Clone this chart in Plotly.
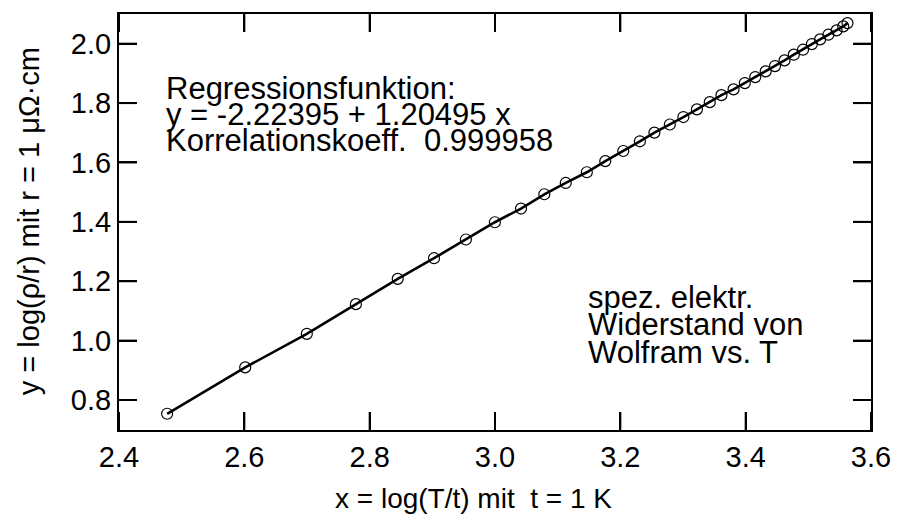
import plotly.graph_objects as go

# x = log(T / 1 K), y = log(rho / 1 µΩ·cm)
x_vals = [2.4768, 2.6014, 2.6997, 2.7780, 2.8448, 2.9027, 2.9536, 2.9998,
          3.0415, 3.0787, 3.1129, 3.1465, 3.1760, 3.2047, 3.2312, 3.2544,
          3.2790, 3.3006, 3.3222, 3.3427, 3.3613, 3.3807, 3.3987, 3.4153,
          3.4320, 3.4468, 3.4620, 3.4768, 3.4915, 3.5057, 3.5188, 3.5320,
          3.5451, 3.5557, 3.5625]
y_vals = [0.7537, 0.9098, 1.0229, 1.1228, 1.2080, 1.2776, 1.3405, 1.3987,
          1.4448, 1.4929, 1.5310, 1.5670, 1.6046, 1.6386, 1.6713, 1.7005,
          1.7278, 1.7530, 1.7789, 1.8032, 1.8267, 1.8462, 1.8674, 1.8876,
          1.9068, 1.9246, 1.9438, 1.9630, 1.9798, 1.9987, 2.0145, 2.0303,
          2.0448, 2.0582, 2.0693]

x_ticks = [2.4, 2.6, 2.8, 3.0, 3.2, 3.4, 3.6]
y_ticks = [0.8, 1.0, 1.2, 1.4, 1.6, 1.8, 2.0]

x_title = "x = log(T/t) mit  t = 1 K"
y_title = "y = log(ρ/r) mit r = 1 μΩ·cm"
info_lines = ["Regressionsfunktion:", "y = -2.22395 + 1.20495 x",
              "Korrelationskoeff.  0.999958"]
label_lines = ["spez. elektr.", "Widerstand von", "Wolfram vs. T"]

FONT = "Liberation Sans"
TICKLEN = 18

fig = go.Figure()
fig.add_trace(go.Scatter(
    x=x_vals, y=y_vals, mode="lines+markers",
    line=dict(color="black", width=2.6),
    marker=dict(symbol="circle-open", size=11, color="black",
                line=dict(width=1.2, color="black")),
    showlegend=False, hoverinfo="x+y"))

fig.update_xaxes(range=[2.4, 3.6], tickmode="array", tickvals=x_ticks,
                 ticktext=[f"{v:.1f}" for v in x_ticks],
                 ticks="inside", ticklen=TICKLEN, tickwidth=2, tickcolor="black",
                 showline=True, linecolor="black", linewidth=2, mirror="ticks",
                 showgrid=False, zeroline=False,
                 tickfont=dict(family=FONT, size=29, color="black"))
fig.update_yaxes(range=[0.699, 2.100], tickmode="array", tickvals=y_ticks,
                 ticktext=[f"{v:.1f}" for v in y_ticks],
                 ticks="inside", ticklen=TICKLEN, tickwidth=2, tickcolor="black",
                 showline=True, linecolor="black", linewidth=2, mirror="ticks",
                 showgrid=False, zeroline=False,
                 tickfont=dict(family=FONT, size=29, color="black"))

# tick marks on all four sides, placed through the axis scales
shapes = []
for v in x_ticks:
    for anchor, y0, y1 in ((0, 0, TICKLEN), (1, -TICKLEN, 0)):
        shapes.append(dict(type="line", xref="x", yref="paper",
                           ysizemode="pixel", yanchor=anchor,
                           x0=v, x1=v, y0=y0, y1=y1, layer="above",
                           line=dict(color="black", width=2)))
for v in y_ticks:
    for anchor, x0, x1 in ((0, 0, TICKLEN), (1, -TICKLEN, 0)):
        shapes.append(dict(type="line", xref="paper", yref="y",
                           xsizemode="pixel", xanchor=anchor,
                           x0=x0, x1=x1, y0=v, y1=v, layer="above",
                           line=dict(color="black", width=2)))

annotations = []
for i, t in enumerate(info_lines):
    annotations.append(dict(text=t, xref="paper", yref="paper",
                            x=0.0600, y=0.8215 - i * 0.0625,
                            xanchor="left", yanchor="middle", showarrow=False,
                            font=dict(family=FONT, size=31, color="black")))
for i, t in enumerate(label_lines):
    annotations.append(dict(text=t, xref="paper", yref="paper",
                            x=0.6205, y=0.319 - i * 0.0665,
                            xanchor="left", yanchor="middle", showarrow=False,
                            font=dict(family=FONT, size=31, color="black")))
annotations.append(dict(text=x_title, xref="paper", yref="paper",
                        x=0.472, y=-0.1657, xanchor="center", yanchor="middle",
                        showarrow=False,
                        font=dict(family=FONT, size=28, color="black")))
annotations.append(dict(text=y_title, xref="paper", yref="paper",
                        x=-0.1196, y=0.502, xanchor="center", yanchor="middle",
                        textangle=-90, showarrow=False,
                        font=dict(family=FONT, size=29, color="black")))

fig.update_layout(
    width=903, height=516,
    margin=dict(l=119, r=23, t=14, b=86),
    paper_bgcolor="white", plot_bgcolor="white",
    annotations=annotations, shapes=shapes,
    font=dict(family=FONT, color="black"),
)

fig.write_html("out.html")
